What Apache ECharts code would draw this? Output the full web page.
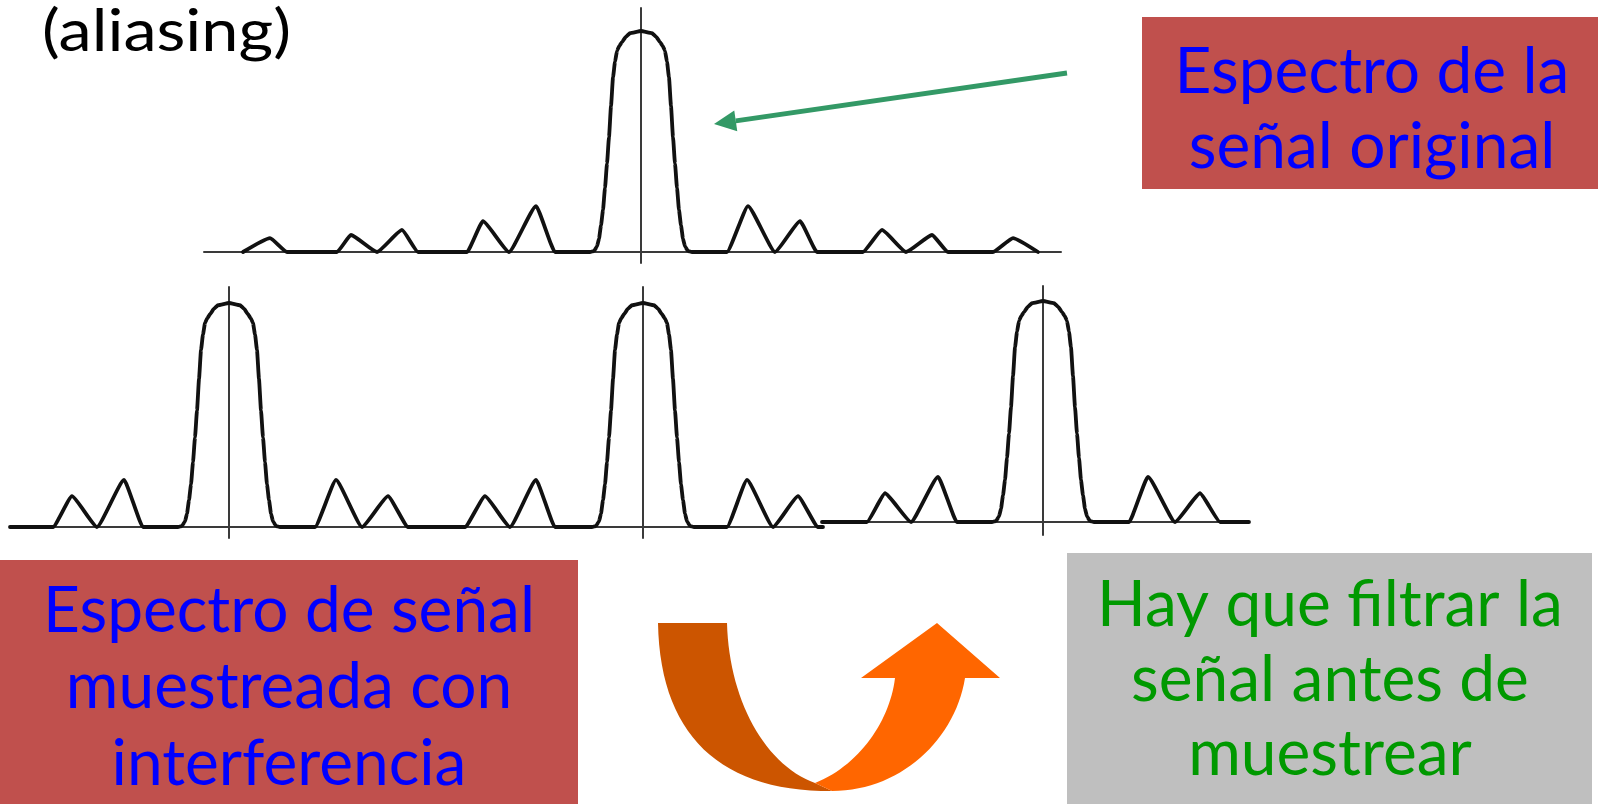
<!DOCTYPE html>
<html><head><meta charset="utf-8">
<script src="https://cdn.jsdelivr.net/npm/echarts@6/dist/echarts.min.js"></script>
<style>html,body{margin:0;padding:0;background:#fff}#c{width:1598px;height:804px}</style>
</head><body><div id="c"></div><script>
// ---------- DATA (offset from lobe centre, amplitude with main peak = 100) ----------
const mainLobeX = [0, 11, 15, 19, 22, 24, 26, 28, 30, 32, 34, 36, 38, 40, 42, 44, 47, 51];
const mainLobeY = [100, 99, 97.5, 95, 93, 91, 86, 79, 66, 52, 40, 29, 19, 12, 6, 2.5, 0.5, 0];

// spectrum of the original signal (top)
const topLeft = [[-398,0],[-371,6.3],[-354,0],[-304,0],[-290,7.7],[-264,0],
  [-239,10],[-223,0],[-174,0],[-158,14],[-132,0],[-105,20.8],[-86,0]];
const topRight = [[86,0],[107,20.8],[134,0],[159,14],[176,0],[222,0],
  [241,10],[265,0],[291,7.7],[307,0],[352,0],[372,6.3],[397,0]];

// sampled spectrum (bottom), three replicas
const rep1Left = [[-219,0],[-176,0],[-157,13.8],[-132,0],[-105,21],[-86,0]];
const rep1Right = [[86,0],[107,21],[133,0],[159,13.8],[179,0],[218,0]];
const rep2Left = [[-233,0],[-178,0],[-158,13.8],[-133,0],[-107,21],[-88,0]];
const rep2Right = [[84,0],[104,21],[130,0],[155,13.8],[175,0],[180,0]];
const rep3Left = [[-221,0],[-176,0],[-158,13],[-132,0],[-105,20.4],[-86,0]];
const rep3Right = [[86,0],[105,20.4],[132,0],[157,13],[177,0],[206,0]];

// texts
const titleText = '(aliasing)';
const origLines = ['Espectro de la', 'señal original'];
const sampledLines = ['Espectro de señal', 'muestreada con', 'interferencia'];
const filterLines = ['Hay que filtrar la', 'señal antes de', 'muestrear'];

// ---------- BUILD ----------
function curve(left, right) {
  const pts = left.slice();
  for (let i = mainLobeX.length - 1; i >= 1; i--) pts.push([-mainLobeX[i], mainLobeY[i]]);
  for (let i = 0; i < mainLobeX.length; i++) pts.push([mainLobeX[i], mainLobeY[i]]);
  return pts.concat(right);
}
const panels = [
  {center: 641, base: 252, k: 2.21, xmin: -437, xmax: 420, top: 8, bottom: 263, data: curve(topLeft, topRight)},
  {center: 229, base: 527, k: 2.24, xmin: -219, xmax: 218, top: 287, bottom: 538, data: curve(rep1Left, rep1Right)},
  {center: 643, base: 527, k: 2.24, xmin: -233, xmax: 180, top: 287, bottom: 538, data: curve(rep2Left, rep2Right)},
  {center: 1043, base: 522, k: 2.21, xmin: -221, xmax: 206, top: 286, bottom: 535, data: curve(rep3Left, rep3Right)}
];
const grid = [], xAxis = [], yAxis = [], series = [];
panels.forEach((p, i) => {
  grid.push({left: p.center + p.xmin, top: p.top, width: p.xmax - p.xmin, height: p.bottom - p.top, containLabel: false});
  const ax = {axisLine: {show: true, onZero: true, lineStyle: {color: '#3a3a3a', width: 2}},
    axisTick: {show: false}, axisLabel: {show: false}, splitLine: {show: false}};
  xAxis.push(Object.assign({type: 'value', gridIndex: i, min: p.xmin, max: p.xmax}, ax));
  yAxis.push(Object.assign({type: 'value', gridIndex: i, min: -(p.bottom - p.base) / p.k, max: (p.base - p.top) / p.k}, ax));
  series.push({type: 'line', xAxisIndex: i, yAxisIndex: i, data: p.data, symbol: 'none', showSymbol: false,
    smooth: 0.14, smoothMonotone: 'x',
    silent: true, animation: false, lineStyle: {color: '#111', width: 3.8, join: 'round', cap: 'round'}});
});

// text helpers
const FAMILY = 'Lato, "Open Sans", sans-serif';
const WEIGHT = '400 ';
const mctx = document.createElement('canvas').getContext('2d');
function fontOf(size) { return WEIGHT + size + 'px ' + FAMILY; }
function measure(text, size) { mctx.font = fontOf(size); mctx.textBaseline = 'middle'; return mctx.measureText(text); }
function textEl(text, x, baseline, size, fill, align, scaleX) {
  const m = measure('E', size);
  return {type: 'text', x: x, y: baseline - m.actualBoundingBoxDescent, scaleX: scaleX, z: 10,
    style: {text: text, font: fontOf(size), fill: fill, align: align, textAlign: align,
      verticalAlign: 'middle', textVerticalAlign: 'middle'}};
}
const BOX = 64, TITLE = 58;
const boxScale = 492 / measure(sampledLines[0], BOX).width;
const titleScale = 249 / measure(titleText, TITLE).width;

function cubic(p0, p1, p2, p3, n) {
  const out = [];
  for (let i = 0; i <= n; i++) {
    const t = i / n, m = 1 - t;
    out.push([m*m*m*p0[0] + 3*m*m*t*p1[0] + 3*m*t*t*p2[0] + t*t*t*p3[0],
              m*m*m*p0[1] + 3*m*m*t*p1[1] + 3*m*t*t*p2[1] + t*t*t*p3[1]]);
  }
  return out;
}
const darkOuter = cubic([658,623],[660,735],[720,792],[832,791], 30);
const darkInner = cubic([727,623],[729,700],[765,765],[815,783], 30).reverse();
const brightInner = cubic([815,783],[860,765],[890,720],[895,678], 30);
const brightOuter = cubic([965,678],[955,740],[900,791],[832,791], 30);
const darkPoly = darkOuter.concat(darkInner);
const brightPoly = brightInner.concat([[861,678],[937,623],[1000,678],[965,678]]).concat(brightOuter);

// green arrow
const aStart = [1067, 73], aTip = [714, 124];
const dx = aTip[0] - aStart[0], dy = aTip[1] - aStart[1], len = Math.hypot(dx, dy);
const ux = dx / len, uy = dy / len, HL = 22, HW = 10.5;
const bx = aTip[0] - ux * HL, by = aTip[1] - uy * HL;

const graphic = [
  {type: 'rect', shape: {x: 1142, y: 17, width: 456, height: 172}, style: {fill: '#C0504D'}, z: 5},
  {type: 'rect', shape: {x: 0, y: 560, width: 578, height: 244}, style: {fill: '#C0504D'}, z: 5},
  {type: 'rect', shape: {x: 1067, y: 553, width: 525, height: 251}, style: {fill: '#BFBFBF'}, z: 5},
  textEl(titleText, 42, 51, TITLE, '#000', 'left', titleScale),
  textEl(origLines[0], 1372, 93, BOX, '#0000FF', 'center', boxScale),
  textEl(origLines[1], 1372, 168, BOX, '#0000FF', 'center', boxScale),
  textEl(sampledLines[0], 289, 632, BOX, '#0000FF', 'center', boxScale),
  textEl(sampledLines[1], 289, 708, BOX, '#0000FF', 'center', boxScale),
  textEl(sampledLines[2], 289, 785, BOX, '#0000FF', 'center', boxScale),
  textEl(filterLines[0], 1330, 626, BOX, '#009900', 'center', boxScale),
  textEl(filterLines[1], 1330, 701, BOX, '#009900', 'center', boxScale),
  textEl(filterLines[2], 1330, 775, BOX, '#009900', 'center', boxScale),
  {type: 'line', shape: {x1: aStart[0], y1: aStart[1], x2: bx, y2: by}, style: {stroke: '#339966', lineWidth: 5}, z: 6},
  {type: 'polygon', shape: {points: [[aTip[0], aTip[1]], [bx - uy * HW, by + ux * HW], [bx + uy * HW, by - ux * HW]]},
    style: {fill: '#339966'}, z: 6},
  {type: 'polygon', shape: {points: darkPoly}, style: {fill: '#CC5500'}, z: 6},
  {type: 'polygon', shape: {points: brightPoly}, style: {fill: '#FF6600'}, z: 7}
];

const chart = echarts.init(document.getElementById('c'), null, {renderer: 'canvas'});
chart.setOption({backgroundColor: '#fff', animation: false, grid, xAxis, yAxis, series, graphic});
</script></body></html>
